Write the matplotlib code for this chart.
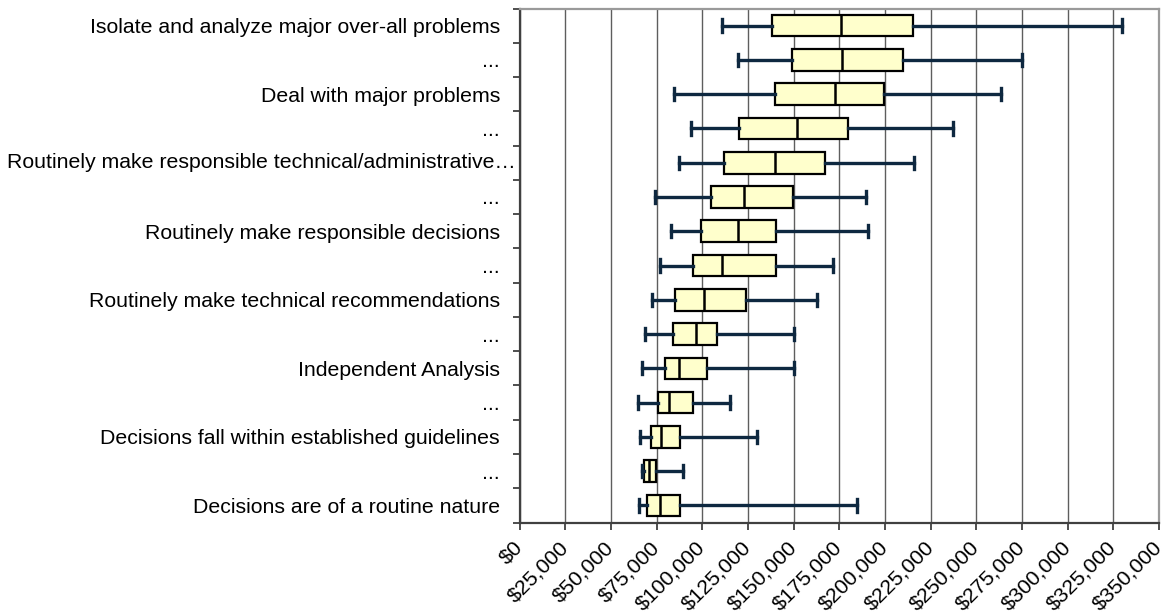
import matplotlib
matplotlib.use("Agg")
import matplotlib.pyplot as plt
import matplotlib.ticker as mticker
import numpy as np

plt.rcParams['font.family'] = ['Liberation Sans', 'DejaVu Sans']

# job levels, top to bottom as shown
labels = [
    "Isolate and analyze major over-all problems",
    "...",
    "Deal with major problems",
    "...",
    "Routinely make responsible technical/administrative\u2026",
    "...",
    "Routinely make responsible decisions",
    "...",
    "Routinely make technical recommendations",
    "...",
    "Independent Analysis",
    "...",
    "Decisions fall within established guidelines",
    "...",
    "Decisions are of a routine nature",
]

# salary distribution per level
low = [110600, 119800, 84600, 93800, 87200, 74100, 83000, 77100,
       72500, 68800, 66900, 64600, 66200, 66900, 65600]
q1 = [138000, 149000, 139800, 120100, 112000, 104900, 99100, 95000,
      85100, 84000, 79600, 75700, 71800, 68300, 69700]
median = [175700, 176600, 172700, 151600, 139800, 123100, 119800, 110600,
          101000, 96600, 87200, 81700, 77700, 71100, 76800]
q3 = [215100, 209800, 199600, 179900, 167200, 149500, 140500, 140100,
      123700, 108300, 102600, 94800, 87600, 74800, 87600]
high = [329800, 274900, 263600, 237400, 216000, 189800, 190900, 171800,
        162600, 150000, 150000, 115000, 130200, 89700, 184900]

stats = []
for i in range(len(labels)):
    stats.append(dict(whislo=low[i], q1=q1[i], med=median[i], q3=q3[i],
                      whishi=high[i], fliers=[]))

fig = plt.figure(figsize=(11.63, 6.12), dpi=100)
ax = fig.add_axes([0.4467, 0.1462, 0.9966 - 0.4467, 0.9861 - 0.1462])

positions = np.arange(1, len(labels) + 1)
whisk_col = "#0E2840"
ax.bxp(stats, positions=positions, orientation="horizontal", widths=0.63,
       capwidths=0.36, patch_artist=True, showfliers=False,
       boxprops=dict(facecolor="#FFFFCC", edgecolor="black", linewidth=1.6),
       medianprops=dict(color="black", linewidth=1.8),
       whiskerprops=dict(color=whisk_col, linewidth=2.4),
       capprops=dict(color=whisk_col, linewidth=2.4),
       zorder=3)

ax.set_xlim(0, 350000)
ax.set_ylim(len(labels) + 0.5, 0.5)

ax.xaxis.set_major_locator(mticker.MultipleLocator(25000))
ax.xaxis.set_major_formatter(mticker.FuncFormatter(lambda v, p: "${:,.0f}".format(v)))
ax.grid(True, axis="x", color="#5E5E5E", linewidth=1.0, zorder=0)
ax.set_axisbelow(True)

ax.set_yticks(positions)
tick_labels = [l if not l.endswith("\u2026") else "" for l in labels]
ax.set_yticklabels(tick_labels)
ax.yaxis.set_minor_locator(mticker.FixedLocator(np.arange(0.5, len(labels) + 1, 1)))
ax.tick_params(axis="y", which="major", length=0, pad=14, labelsize=15.3)
ax.tick_params(axis="y", which="minor", length=5, width=1.3, color="#404040", direction="out")
ax.tick_params(axis="x", which="major", length=5, width=1.3, color="#404040",
               direction="out", labelsize=15.3, pad=11)

# long label truncated by the chart, sits closer to the axis
for l, p in zip(labels, positions):
    if l.endswith("\u2026"):
        ax.text(-0.006, p, l, transform=ax.get_yaxis_transform(), ha="right",
                va="center", fontsize=15.3)

for lab in ax.get_xticklabels():
    lab.set_rotation(45)
    lab.set_ha("right")
    lab.set_va("center")
    lab.set_rotation_mode("anchor")

for s in ["left", "bottom"]:
    ax.spines[s].set_color("#404040")
    ax.spines[s].set_linewidth(1.6)
for s in ["top", "right"]:
    ax.spines[s].set_color("#9A9A9A")
    ax.spines[s].set_linewidth(1.6)

fig.savefig("out.png", dpi=100)
